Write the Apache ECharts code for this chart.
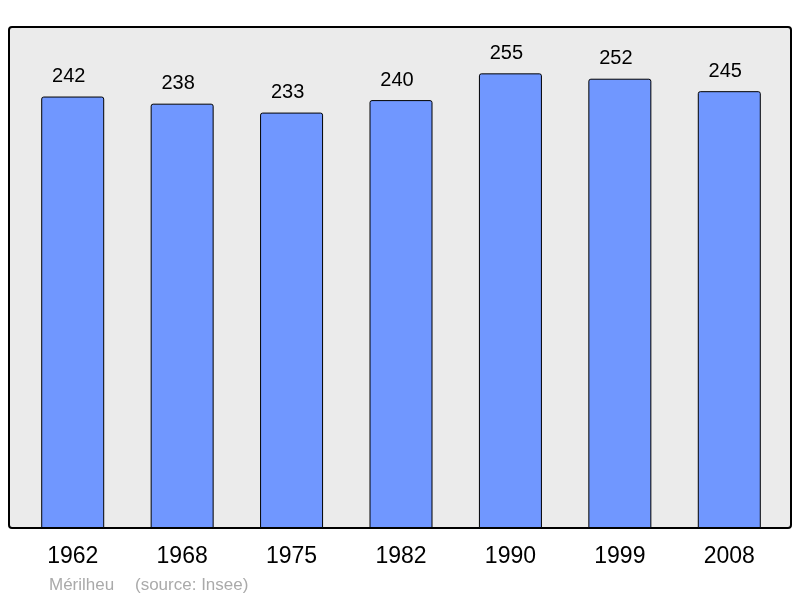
<!DOCTYPE html>
<html>
<head>
<meta charset="utf-8">
<script src="https://cdn.jsdelivr.net/npm/echarts@6/dist/echarts.min.js"></script>
<style>
  html, body { margin: 0; padding: 0; background: #fff; }
  #main { width: 800px; height: 598px; }
</style>
</head>
<body>
<div id="main"></div>
<script>
// données
var years = ['1962', '1968', '1975', '1982', '1990', '1999', '2008'];
var population = [242, 238, 233, 240, 255, 252, 245];

var myChart = echarts.init(document.getElementById('main'));

var option = {
    animation: false,
    textStyle: { fontFamily: 'Liberation Sans' },
    grid: { left: 18, right: 16, top: 27, bottom: 70 },
    graphic: [
        {   // cadre gris
            type: 'rect',
            z: -1,
            shape: { x: 9, y: 27, width: 782, height: 501, r: 3 },
            style: { fill: '#ebebeb', stroke: '#000', lineWidth: 2 }
        },
        {
            type: 'text', left: 49, top: 577,
            style: { text: 'Mérilheu', fill: '#aaaaaa', font: '17px Liberation Sans' }
        },
        {
            type: 'text', left: 135, top: 577,
            style: { text: '(source: Insee)', fill: '#aaaaaa', font: '17px Liberation Sans' }
        }
    ],
    xAxis: {
        type: 'category',
        data: years,
        axisLine: { show: false },
        axisTick: { show: false },
        axisLabel: { color: '#000', fontSize: 23, margin: 17 }
    },
    yAxis: {
        type: 'value',
        min: 0,
        max: 281,
        show: false,
        splitLine: { show: false }
    },
    series: [{
        type: 'bar',
        data: population,
        barWidth: 63,
        itemStyle: {
            color: '#7097ff',
            borderColor: '#000',
            borderWidth: 1,
            borderRadius: [2, 2, 0, 0]
        },
        label: {
            show: true,
            position: 'top',
            distance: 10,
            offset: [-4, 0],
            color: '#000',
            fontSize: 20
        }
    }]
};

myChart.setOption(option);
</script>
</body>
</html>
